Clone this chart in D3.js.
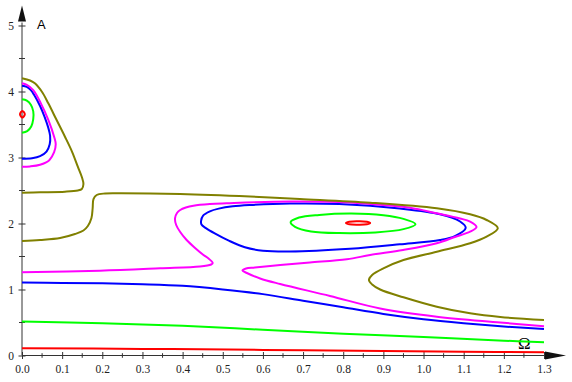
<!DOCTYPE html>
<html><head><meta charset="utf-8">
<script src="https://cdn.jsdelivr.net/npm/d3@7"></script>
<style>body{margin:0;background:#fff}</style>
</head><body>
<svg id="c" width="572" height="382"></svg>
<script>
// ---- tick labels ----
const xTicks = [0,0.1,0.2,0.3,0.4,0.5,0.6,0.7,0.8,0.9,1.0,1.1,1.2,1.3];
const xMinor = [0.05,0.15,0.25,0.35,0.45,0.55,0.65,0.75,0.85,0.95,1.05,1.15,1.25];
const yTicks = [0,1,2,3,4,5];
const yMinor = [0.5,1.5,2.5,3.5,4.5];
const xLabel = "Ω";
const yLabel = "A";

// ---- red curves ----
const redLine = [[0,0.11],[0.3,0.10],[0.6,0.085],[0.9,0.068],[1.1,0.058],[1.3,0.048]];
const redLoopLeft = [[-0.005,3.655],[0.001,3.705],[0.007,3.655],[0.001,3.605]];
const redLoopMid = [[0.807,2.008],[0.815,2.028],[0.837,2.034],[0.859,2.028],[0.867,2.008],[0.859,1.988],[0.837,1.982],[0.815,1.988]];

// ---- green curves ----
const greenLine = [[0,0.515],[0.2,0.49],[0.4,0.45],[0.6,0.39],[0.8,0.33],[1.0,0.28],[1.2,0.225],[1.3,0.2]];
const greenLoopLeft = [[0,3.882],[0.012,3.862],[0.022,3.80],[0.028,3.70],[0.028,3.58],[0.023,3.47],[0.013,3.40],[0,3.376]];
const greenLoopMid = [[0.669,2.02],[0.69,2.09],[0.74,2.13],[0.82,2.15],[0.90,2.125],[0.95,2.07],[0.98,1.99],[0.95,1.915],[0.88,1.865],[0.79,1.855],[0.72,1.88],[0.68,1.95]];

// ---- blue curves ----
const blueLine = [[0,1.105],[0.1,1.10],[0.2,1.095],[0.3,1.08],[0.4,1.055],[0.5,1.0],[0.6,0.93],[0.7,0.83],[0.8,0.73],[0.9,0.63],[1.0,0.55],[1.1,0.49],[1.2,0.44],[1.3,0.40]];
const blueLoopLeft = [[0,4.088],[0.012,4.07],[0.022,4.02],[0.030,3.95],[0.045,3.78],[0.056,3.62],[0.065,3.46],[0.070,3.33],[0.069,3.20],[0.061,3.09],[0.045,3.02],[0.025,2.99],[0,2.982]];
const blueLoopMid = [[0.446,2.04],[0.451,2.12],[0.468,2.185],[0.490,2.225],[0.525,2.26],[0.568,2.28],[0.667,2.303],[0.79,2.295],[0.941,2.227],[1.041,2.14],[1.091,2.03],[1.105,1.935],[1.078,1.81],[1.041,1.75],[0.941,1.685],[0.817,1.617],[0.667,1.576],[0.60,1.588],[0.555,1.64],[0.515,1.74],[0.480,1.85],[0.458,1.93],[0.447,1.985]];

// ---- magenta curves ----
const magentaLoopLeft = [[0,4.124],[0.012,4.10],[0.028,4.02],[0.047,3.82],[0.0655,3.57],[0.080,3.315],[0.084,3.20],[0.080,3.08],[0.068,2.96],[0.045,2.89],[0.02,2.865],[0,2.861]];
const magentaCurve = [[0,1.261],[0.194,1.285],[0.344,1.321],[0.443,1.348],[0.471,1.379],[0.475,1.402],[0.463,1.477],[0.452,1.523],[0.431,1.629],[0.410,1.750],[0.394,1.871],[0.384,1.977],[0.381,2.079],[0.386,2.159],[0.394,2.205],[0.408,2.242],[0.427,2.270],[0.468,2.295],[0.510,2.306],[0.667,2.333],[0.817,2.318],[0.867,2.295],[0.966,2.239],[1.033,2.155],[1.091,2.076],[1.116,2.027],[1.132,1.947],[1.116,1.876],[1.078,1.795],[1.033,1.700],[0.949,1.598],[0.867,1.523],[0.809,1.458],[0.717,1.409],[0.643,1.371],[0.580,1.333],[0.558,1.318],[0.549,1.288],[0.560,1.250],[0.593,1.167],[0.643,1.083],[0.767,0.902],[0.892,0.712],[1.033,0.588],[1.191,0.500],[1.3,0.442]];

// ---- olive curves ----
const oliveLoopLeft = [[0,4.200],[0.020,4.167],[0.032,4.124],[0.050,3.992],[0.0655,3.821],[0.085,3.583],[0.107,3.315],[0.125,3.083],[0.139,2.861],[0.149,2.705],[0.153,2.598],[0.149,2.523],[0.139,2.500],[0.107,2.482],[0.045,2.473],[0,2.467]];
const oliveCurve = [[0,1.735],[0.045,1.750],[0.095,1.780],[0.132,1.841],[0.153,1.894],[0.164,1.962],[0.173,2.083],[0.176,2.235],[0.178,2.371],[0.186,2.432],[0.207,2.455],[0.244,2.458],[0.394,2.447],[0.568,2.409],[0.692,2.371],[0.867,2.315],[1.033,2.230],[1.116,2.139],[1.157,2.053],[1.185,1.927],[1.157,1.800],[1.116,1.700],[1.033,1.573],[0.950,1.447],[0.900,1.321],[0.872,1.220],[0.864,1.144],[0.872,1.076],[0.892,1.000],[0.950,0.882],[1.033,0.739],[1.116,0.639],[1.191,0.583],[1.3,0.538]];

const series = [
  {color:"#ff0000", open:[redLine], closed:[redLoopLeft, redLoopMid]},
  {color:"#00ff00", open:[greenLine, greenLoopLeft], closed:[greenLoopMid]},
  {color:"#0000ff", open:[blueLine, blueLoopLeft], closed:[blueLoopMid]},
  {color:"#ff00ff", open:[magentaLoopLeft, magentaCurve], closed:[]},
  {color:"#808000", open:[oliveLoopLeft, oliveCurve], closed:[]}
];

const SERIF = "'Liberation Serif', 'Times New Roman', Times, 'DejaVu Serif', serif";
const SANS = "'Liberation Sans', Arial, Helvetica, sans-serif";

const svg = d3.select("#c");
const x = d3.scaleLinear().domain([0,1.3]).range([22,544]);
const y = d3.scaleLinear().domain([0,5]).range([355.5,25.5]);
const axisColor = "#333";

// x axis
const gx = svg.append("g").attr("transform",`translate(0,${y(0)})`)
  .call(d3.axisBottom(x).tickValues(xTicks).tickFormat(d3.format(".1f")).tickSize(3).tickPadding(6));
gx.select(".domain").remove();
gx.selectAll(".tick line").attr("y1",-3.5).attr("y2",3.5).attr("stroke",axisColor);
gx.selectAll("text").style("font-family",SERIF).style("font-size","11.5px").attr("fill","#222");
gx.selectAll(".minor").data(xMinor).enter().append("line")
  .attr("x1",d=>x(d)).attr("x2",d=>x(d)).attr("y1",-2.3).attr("y2",2.3).attr("stroke",axisColor);

// y axis
const gy = svg.append("g").attr("transform",`translate(${x(0)},0)`)
  .call(d3.axisLeft(y).tickValues(yTicks).tickFormat(d3.format("d")).tickSize(3).tickPadding(5));
gy.select(".domain").remove();
gy.selectAll(".tick line").attr("x1",-3.5).attr("x2",3.5).attr("stroke",axisColor);
gy.selectAll("text").style("font-family",SERIF).style("font-size","11.5px").attr("fill","#222");
gy.selectAll(".minor").data(yMinor).enter().append("line")
  .attr("y1",d=>y(d)).attr("y2",d=>y(d)).attr("x1",-3).attr("x2",3).attr("stroke",axisColor);

// axis lines with arrows
const x0 = x(0), y0 = y(0), xEnd = x(1.3);
svg.append("line").attr("x1",x0).attr("x2",xEnd+2).attr("y1",y0).attr("y2",y0).attr("stroke",axisColor).attr("stroke-width",1);
svg.append("path").attr("d",`M${xEnd+1},${y0-4}L${xEnd+22},${y0}L${xEnd+1},${y0+4}Z`).attr("fill","#111");
const yTop = y(5);
svg.append("line").attr("x1",x0).attr("x2",x0).attr("y1",y0).attr("y2",yTop-3).attr("stroke",axisColor).attr("stroke-width",1);
svg.append("path").attr("d",`M${x0-4},${yTop-4}L${x0},${yTop-20}L${x0+4},${yTop-4}Z`).attr("fill","#111");

// axis labels
svg.append("text").attr("x",x0+15).attr("y",yTop+3).text(yLabel)
  .style("font-family",SANS).style("font-size","13px").attr("fill","#000");
svg.append("text").attr("x",xEnd-26).attr("y",y0-7).text(xLabel)
  .style("font-family",SERIF).style("font-size","17px").attr("fill","#000");

// curves
const lineOpen = d3.line().x(d=>x(d[0])).y(d=>y(d[1])).curve(d3.curveCatmullRom.alpha(0.5));
const lineClosed = d3.line().x(d=>x(d[0])).y(d=>y(d[1])).curve(d3.curveCatmullRomClosed.alpha(0.5));
series.forEach(s=>{
  s.open.forEach(pts=>svg.append("path").attr("d",lineOpen(pts)).attr("fill","none").attr("stroke",s.color).attr("stroke-width",2));
  s.closed.forEach(pts=>svg.append("path").attr("d",lineClosed(pts)).attr("fill","none").attr("stroke",s.color).attr("stroke-width",2));
});
</script>
</body></html>
